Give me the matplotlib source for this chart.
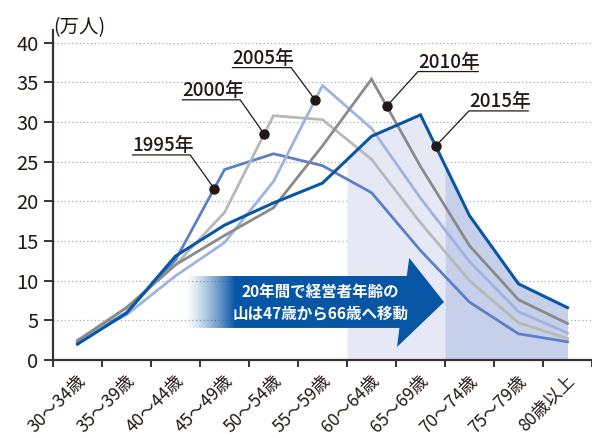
import numpy as np
import matplotlib
matplotlib.use('Agg')
import matplotlib.pyplot as plt
from matplotlib.patches import Polygon
from matplotlib.transforms import ScaledTranslation
from matplotlib.colors import to_rgb

plt.rcParams['font.family'] = ['Noto Sans CJK JP', 'DejaVu Sans']

# ---------------- data ----------------
categories = ['30～34歳', '35～39歳', '40～44歳', '45～49歳', '50～54歳', '55～59歳',
              '60～64歳', '65～69歳', '70～74歳', '75～79歳', '80歳以上']
years = ['1995年', '2000年', '2005年', '2010年', '2015年']
v1995 = [2.2, 6.0, 12.6, 24.0, 26.0, 24.5, 21.1, 13.8, 7.3, 3.3, 2.3]
v2000 = [2.5, 6.6, 12.0, 18.6, 30.8, 30.3, 25.3, 17.3, 10.0, 4.7, 2.7]
v2005 = [2.5, 5.7, 10.6, 14.8, 22.5, 34.6, 29.2, 20.4, 12.4, 6.1, 3.4]
v2010 = [2.4, 6.6, 12.0, 15.7, 19.2, 27.0, 35.4, 24.4, 14.4, 7.6, 4.6]
v2015 = [2.0, 5.9, 13.1, 17.0, 19.8, 22.3, 28.2, 30.9, 18.2, 9.6, 6.6]
y_ticks = [0, 5, 10, 15, 20, 25, 30, 35, 40]
unit_label = '(万人)'
arrow_text = '20年間で経営者年齢の\n山は47歳から66歳へ移動'

series = [v1995, v2000, v2005, v2010, v2015]
colors = ['#5b80c6', '#b8b8b8', '#9fb3e0', '#8a8a8a', '#0a56a6']
widths = [2.0, 2.0, 2.0, 2.0, 2.2]
zorders = [5, 5, 5, 5, 6]

ink = '#231815'

fig = plt.figure(figsize=(5.92, 4.38), dpi=100)
ax = fig.add_axes([53/592, (438-360)/438, (592-53)/592, 330/438])

idx = np.arange(len(categories))

# shaded regions under the 2015 curve
xs_light = np.linspace(5.5, 7.5, 60)
xs_dark = np.linspace(7.5, 10, 60)
ax.fill_between(xs_light, 0, np.interp(xs_light, idx, v2015), color='#e6e9f5', lw=0, zorder=1)
ax.fill_between(xs_dark, 0, np.interp(xs_dark, idx, v2015), color='#c6d0ea', lw=0, zorder=1)

# lines
for vals, c, w, z in zip(series, colors, widths, zorders):
    ax.plot(idx, vals, color=c, lw=w, zorder=z, solid_joinstyle='miter')

# gradient arrow
arrow_poly = [(2.19, 10.59), (6.72, 10.59), (6.77, 12.86), (7.48, 7.31),
              (6.52, 1.64), (6.57, 4.04), (2.19, 4.04)]
patch = Polygon(arrow_poly, closed=True, facecolor='none', edgecolor='none')
ax.add_patch(patch)
gx = np.linspace(2.19, 7.5, 400)
alpha = np.clip((gx - 2.19) / (3.2 - 2.19), 0, 1) ** 1.3
rgba = np.zeros((1, len(gx), 4))
rgba[..., :3] = to_rgb('#0756a6')
rgba[0, :, 3] = alpha
im = ax.imshow(rgba, extent=(2.19, 7.5, 1.6, 12.9), aspect='auto', origin='lower',
               interpolation='bilinear', zorder=3)
im.set_clip_path(patch)
ax.text(4.96, 7.2, arrow_text, color='white', fontsize=11.2, fontweight='bold',
        ha='center', va='center', linespacing=1.5, zorder=7)

# annotations: (dot x position, underline x0, x1, y, leader from right?)
ann_layout = [
    (2.79, 1.11, 2.30, 25.85, True),
    (3.81, 2.13, 3.32, 32.8, True),
    (4.85, 3.15, 4.36, 36.86, True),
    (6.31, 6.95, 8.19, 36.36, False),
    (7.31, 7.99, 9.21, 31.4, False),
]
for name, vals, (dx, x0, x1, uy, from_right) in zip(years, series, ann_layout):
    dy = np.interp(dx, idx, vals)
    if from_right:
        px, py = [x0, x1, dx], [uy, uy, dy]
    else:
        px, py = [x1, x0, dx], [uy, uy, dy]
    ax.plot(px, py, color=ink, lw=0.9, zorder=8, solid_capstyle='butt')
    ax.plot([dx], [dy], 'o', color=ink, ms=6.5, zorder=9)
    ax.text(x0, uy - 0.05, name, color=ink, fontsize=13.5, fontweight='medium',
            ha='left', va='bottom', zorder=9)

# axes styling
ax.set_xlim(-0.5, 10.5)
ax.set_ylim(0, 41.6)
for s in ['top', 'right']:
    ax.spines[s].set_visible(False)
for s in ['left', 'bottom']:
    ax.spines[s].set_color('#3a3232')
    ax.spines[s].set_linewidth(1.6)
    ax.spines[s].set_zorder(10)

ax.set_yticks(y_ticks)
ax.set_yticklabels([str(t) for t in y_ticks], fontsize=14.5, color=ink)
ax.tick_params(axis='y', direction='out', length=6.5, width=1.4, color='#3a3232', pad=4)
ax.yaxis.grid(True, linestyle=(0, (1, 2)), color='#a8a8a8', lw=0.9)
ax.set_axisbelow(True)

ax.set_xticks(np.arange(-0.5, 10.6, 1.0))
ax.set_xticklabels([])
ax.tick_params(axis='x', which='major', direction='out', length=5, width=1.4, color='#3a3232')
ax.set_xticks(idx, minor=True)
ax.set_xticklabels(categories, minor=True, fontsize=12.5, color=ink, rotation=45,
                   ha='right', va='top')
ax.tick_params(axis='x', which='minor', length=0, pad=8.6)
off = ScaledTranslation(11.6/100, 0, fig.dpi_scale_trans)
for lab in ax.get_xticklabels(minor=True):
    lab.set_transform(lab.get_transform() + off)

fig.text(53/592, 1 - 28/438, unit_label, fontsize=14, color=ink, ha='left', va='center')

fig.savefig('out.png', dpi=100)
